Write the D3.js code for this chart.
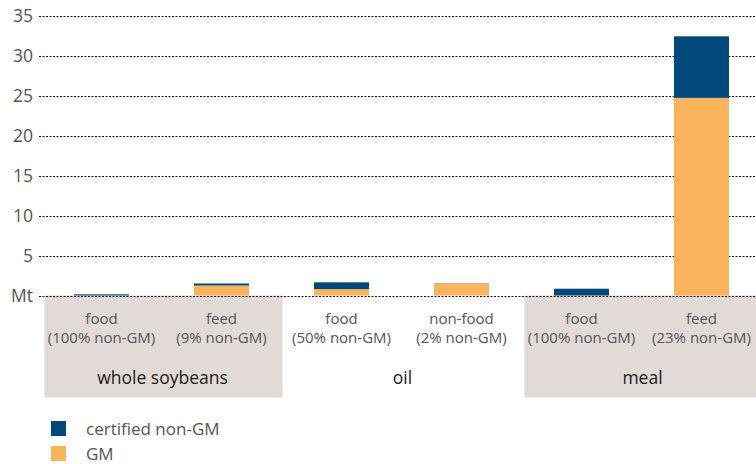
<!DOCTYPE html>
<html>
<head>
<meta charset="utf-8">
<script src="https://cdn.jsdelivr.net/npm/d3@7"></script>
<style>
body{margin:0;background:#fff;}
svg{display:block;font-family:"Open Sans",sans-serif;}
</style>
</head>
<body>
<svg id="chart" width="756" height="464"></svg>
<script>
const categories = ["ws_food","ws_feed","oil_food","oil_nonfood","meal_food","meal_feed"];
const catLine1 = ["food","feed","food","non-food","food","feed"];
const catLine2 = ["(100% non-GM)","(9% non-GM)","(50% non-GM)","(2% non-GM)","(100% non-GM)","(23% non-GM)"];
const gmValues = [0, 1.25, 0.8, 1.5, 0, 24.7];
const nonGmValues = [0.15, 0.25, 0.85, 0.03, 0.85, 7.7];
const groups = ["whole soybeans","oil","meal"];
const groupShaded = [true,false,true];
const yTicks = [0,5,10,15,20,25,30,35];
const yTickLabels = ["Mt","5","10","15","20","25","30","35"];
const seriesNames = ["certified non-GM","GM"];
const colors = {nonGM:"#00497a", GM:"#f9b45d"};

const svg = d3.select("#chart");
const y = d3.scaleLinear().domain([0,35]).range([295.5,15.5]);
const x = d3.scaleBand().domain(categories).range([41.5,761.5]).paddingInner(65/120).paddingOuter(65/240);
const step = x.step();
const x0 = 41.5;

// group boxes
groups.forEach((g,i)=>{
  const gx = x0 + i*2*step;
  if(groupShaded[i]){
    svg.append("rect").attr("x",gx+3).attr("y",y(0)).attr("width",238).attr("height",102).attr("fill","#e2dad6");
  }
  svg.append("text").attr("x",gx+step+1).attr("y",384).attr("text-anchor","middle")
    .attr("font-size",17.5).attr("fill","#1a1a1a").attr("font-weight",500).text(g);
});

// grid
const grid = svg.append("g");
yTicks.forEach((t,i)=>{
  grid.append("line").attr("x1",39).attr("x2",756).attr("y1",Math.round(y(t))+0.5).attr("y2",Math.round(y(t))+0.5)
    .attr("stroke","#111").attr("stroke-width",1).attr("stroke-dasharray","2,1.5");
  svg.append("text").attr("x",33).attr("y",y(t)+6).attr("text-anchor","end").attr("font-size",17.5).attr("fill","#555").text(yTickLabels[i]);
});

// stacked bars
const data = categories.map((c,i)=>({cat:c, nonGM:nonGmValues[i], GM:gmValues[i]}));
const stack = d3.stack().keys(["GM","nonGM"])(data);
svg.append("g").selectAll("g").data(stack).join("g").attr("fill",d=>colors[d.key])
  .selectAll("rect").data(d=>d).join("rect")
  .attr("x",d=>x(d.data.cat)).attr("width",x.bandwidth())
  .attr("y",d=>y(d[1])).attr("height",d=>y(d[0])-y(d[1]));

// category labels
categories.forEach((c,i)=>{
  const cx = x(c)+x.bandwidth()/2;
  svg.append("text").attr("x",cx).attr("y",324).attr("text-anchor","middle").attr("font-size",15).attr("fill","#555").text(catLine1[i]);
  svg.append("text").attr("x",cx).attr("y",343).attr("text-anchor","middle").attr("font-size",15).attr("fill","#555").text(catLine2[i]);
});

// legend
const legColors = [colors.nonGM, colors.GM];
seriesNames.forEach((s,i)=>{
  svg.append("rect").attr("x",51).attr("y",421+i*25).attr("width",15).attr("height",15).attr("fill",legColors[i]);
  svg.append("text").attr("x",86).attr("y",435+i*25).attr("font-size",17).attr("fill","#555").text(s);
});
</script>
</body>
</html>
